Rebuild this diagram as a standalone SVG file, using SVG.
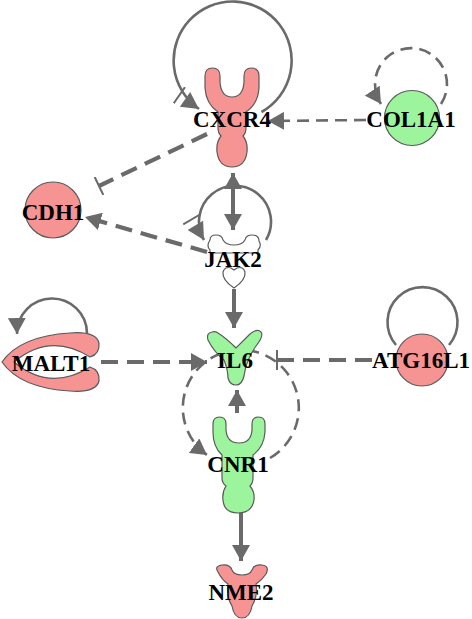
<svg xmlns="http://www.w3.org/2000/svg" width="472" height="619" viewBox="0 0 472 619">
<style>
.e{fill:none;stroke:#6a6a6a;stroke-linecap:butt}
.s{stroke-width:2.6}
.st{stroke-width:4}
.d{stroke-width:4.2;stroke-dasharray:17 9}
.dt{stroke-width:2.6;stroke-dasharray:12 7}
.up{fill:#f69393;stroke:#5a5a5a;stroke-width:1.2}
.dn{fill:#9cf59c;stroke:#5a5a5a;stroke-width:1.2}
.wh{fill:#ffffff;stroke:#5a5a5a;stroke-width:1.2}
text{font-family:"Liberation Serif","Times New Roman",serif;font-weight:bold;font-size:23px;text-anchor:middle;fill:#000}
</style>
<defs>
<marker id="arr" viewBox="0 0 16 18" refX="16" refY="9" markerWidth="16" markerHeight="18" markerUnits="userSpaceOnUse" orient="auto-start-reverse">
<path d="M0,0 L16,9 L0,18 Z" fill="#6a6a6a"/>
</marker>
<marker id="bar" viewBox="0 0 4 20" refX="2" refY="10" markerWidth="4" markerHeight="20" markerUnits="userSpaceOnUse" orient="auto">
<path d="M2,0 L2,20" stroke="#6a6a6a" stroke-width="2"/>
</marker>
<marker id="bararr" viewBox="0 0 26 20" refX="26" refY="10" markerWidth="26" markerHeight="20" markerUnits="userSpaceOnUse" orient="auto">
<path d="M2,0 L2,20" stroke="#6a6a6a" stroke-width="2"/>
<path d="M9,1 L26,10 L9,19 Z" fill="#6a6a6a"/>
</marker>
</defs>
<g id="edges">
<path class="e s" d="M261.5,112 A59,59 0 1 0 199,109" marker-end="url(#bararr)"/>
<path class="e dt" d="M441,104 A36,36 0 1 0 381,104" marker-end="url(#arr)"/>
<path class="e dt" d="M366,120 L268,121" marker-end="url(#arr)"/>
<path class="e d" d="M207,134 L99,186" marker-end="url(#bar)"/>
<path class="e d" d="M207,252 L85,217" marker-end="url(#arr)"/>
<path class="e st" d="M233,173 L233,230" marker-start="url(#arr)" marker-end="url(#arr)"/>
<path class="e s" d="M266,240 A36,36 0 1 0 204,240" marker-end="url(#bararr)"/>
<path class="e st" d="M234,289 L234,328" marker-end="url(#arr)"/>
<path class="e s" d="M87,333 A35,35 0 1 0 17,334" marker-end="url(#arr)"/>
<path class="e d" d="M101,362 L207,362" marker-end="url(#arr)"/>
<path class="e s" d="M396,345 A35,35 0 1 1 449,345"/>
<path class="e d" d="M372,360 L277,360" marker-end="url(#bar)"/>
<path class="e dt" d="M270,458 A58,58 0 1 0 207,455" marker-end="url(#arr)"/>
<path class="e st" d="M237,413 L237,390" marker-end="url(#arr)"/>
<path class="e st" d="M241,513 L241,561" marker-end="url(#arr)"/>
</g>
<g id="CXCR4">
<path class="up" d="M205,76 Q205,68 212.5,68 Q220,68 220,76 L220,82 Q221,97 232,97 Q243,97 244,82 L244,76 Q244,68 251.5,68 Q259,68 259,76 L259,88 Q258,104 246,112 L246,128 Q246,133 243,136 Q248,142 247,152 Q245,167 232,167 Q219,167 217,152 Q216,142 221,136 Q218,133 218,128 L218,112 Q206,104 205,88 Z"/>
<text x="232" y="127">CXCR4</text>
</g>
<g id="COL1A1">
<circle class="dn" cx="412" cy="118" r="27.5"/>
<text x="411" y="127">COL1A1</text>
</g>
<g id="CDH1">
<circle class="up" cx="53" cy="210" r="28"/>
<text x="53" y="220">CDH1</text>
</g>
<g id="JAK2">
<path class="wh" d="M210,240 Q210,235 216,235 Q222,235 223,240 Q226,245 234,245 Q242,245 245,240 Q246,235 252,235 Q259,235 259,241 Q262,246 258,250 L258,253 L210,253 L210,250 Q206,246 210,240 Z"/>
<path class="wh" d="M234,288 Q222,280 223,272 Q225,266 231,268 L234,270 L237,268 Q243,266 245,272 Q246,280 234,288 Z"/>
<text x="233" y="267">JAK2</text>
</g>
<g id="MALT1">
<path class="up" d="M2,362 Q20,336 70,333 Q96,331 99,343 Q100,354 90,357 Q50,332 14,362 Q50,392 90,367 Q100,370 99,381 Q96,393 70,391 Q20,388 2,362 Z"/>
<text x="51" y="371">MALT1</text>
</g>
<g id="IL6">
<path class="dn" d="M212,332 Q206,333 208,340 Q214,352 224,360 Q228,370 228,378 Q230,385 236,385 Q242,385 244,376 Q246,360 256,346 Q264,336 261,332 Q257,328 250,334 Q242,342 236,348 Q226,338 218,333 Q215,331 212,332 Z"/>
<text x="235" y="368">IL6</text>
</g>
<g id="ATG16L1">
<circle class="up" cx="422" cy="360" r="26"/>
<text x="421" y="368">ATG16L1</text>
</g>
<g id="CNR1">
<path class="dn" d="M213,424 Q213,417 219.5,417 Q226,417 226,424 L226,430 Q227,443 239,443 Q251,443 252,430 L252,424 Q252,417 258.5,417 Q265,417 265,424 L265,432 Q264,447 253,455 L253,478 Q253,483 250,486 Q255,492 254,500 Q252,513 238,513 Q224,513 223,500 Q222,492 226,486 Q222,483 222,478 L222,455 Q213,447 213,432 Z"/>
<text x="238" y="472">CNR1</text>
</g>
<g id="NME2">
<path class="up" d="M218,572 Q214,566 222,565 Q230,564 232,570 Q234,575 242,575 Q250,575 252,570 Q254,564 262,565 Q270,566 266,574 Q262,580 256,584 Q258,596 252,606 Q250,618 242,618 Q234,618 232,606 Q226,596 228,584 Q222,580 218,572 Z"/>
<text x="241" y="600">NME2</text>
</g>
</svg>
